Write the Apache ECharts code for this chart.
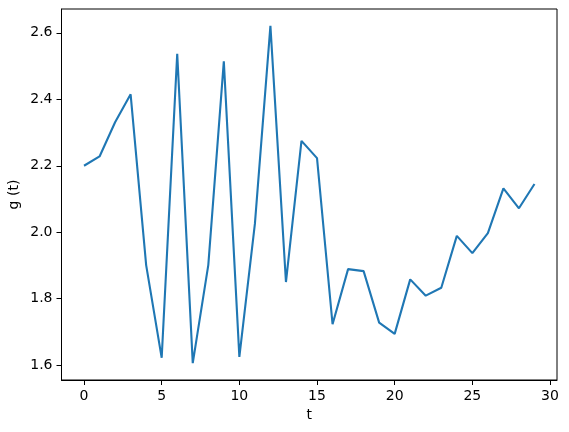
<!DOCTYPE html>
<html>
<head>
<meta charset="utf-8">
<script src="https://cdn.jsdelivr.net/npm/echarts@6/dist/echarts.min.js"></script>
<style>
  html, body { margin: 0; padding: 0; background: #fff; }
  #chart { width: 569px; height: 432px; }
</style>
</head>
<body>
<div id="chart"></div>
<script>
// t values and g(t)
const tValues = [0, 1, 2, 3, 4, 5, 6, 7, 8, 9, 10, 11, 12, 13, 14,
                 15, 16, 17, 18, 19, 20, 21, 22, 23, 24, 25, 26, 27, 28, 29];
const gValues = [2.200, 2.228, 2.331, 2.415, 1.901, 1.622, 2.537, 1.606, 1.901, 2.514,
                 1.625, 2.025, 2.621, 1.850, 2.275, 2.223, 1.723, 1.889, 1.883, 1.728,
                 1.694, 1.858, 1.809, 1.833, 1.989, 1.937, 1.997, 2.132, 2.072, 2.145];
const xTicks = [0, 5, 10, 15, 20, 25, 30];
const yTicks = [1.6, 1.8, 2.0, 2.2, 2.4, 2.6];

const font = 'DejaVu Sans';

// matplotlib style 5% margins
const xMin = -1.45, xMax = 30.45;
const gMin = Math.min(...gValues), gMax = Math.max(...gValues);
const pad = (gMax - gMin) * 0.05;

var chart = echarts.init(document.getElementById('chart'), null, { renderer: 'canvas' });

chart.setOption({
    animation: false,
    backgroundColor: '#fff',
    grid: {
        left: 61.5, right: 12, top: 9, bottom: 52,
        show: true, borderColor: '#000', borderWidth: 1,
        containLabel: false,
        outerBoundsMode: 'none'
    },
    xAxis: {
        type: 'value',
        min: xMin, max: xMax,
        name: 't',
        nameLocation: 'middle',
        nameGap: 28,
        nameMoveOverlap: false,
        nameTextStyle: { fontFamily: font, fontSize: 14, color: '#000' },
        axisLine: { show: true, onZero: false, lineStyle: { color: '#000', width: 1 } },
        axisTick: { show: true, inside: false, length: 5, customValues: xTicks, lineStyle: { color: '#000' } },
        axisLabel: {
            customValues: xTicks, margin: 9,
            fontFamily: font, fontSize: 14, color: '#000'
        },
        splitLine: { show: false }
    },
    yAxis: {
        type: 'value',
        min: gMin - pad, max: gMax + pad,
        name: 'g (t)',
        nameLocation: 'middle',
        nameGap: 40,
        nameMoveOverlap: false,
        nameTextStyle: { fontFamily: font, fontSize: 14, color: '#000' },
        axisLine: { show: true, onZero: false, lineStyle: { color: '#000', width: 1 } },
        axisTick: { show: true, inside: false, length: 5, customValues: yTicks, lineStyle: { color: '#000' } },
        axisLabel: {
            customValues: yTicks, margin: 9,
            fontFamily: font, fontSize: 14, color: '#000',
            formatter: v => v.toFixed(1)
        },
        splitLine: { show: false }
    },
    series: [{
        type: 'line',
        data: tValues.map((t, i) => [t, gValues[i]]),
        showSymbol: false,
        lineStyle: { color: '#1f77b4', width: 2.1 },
        itemStyle: { color: '#1f77b4' }
    }]
});
</script>
</body>
</html>
